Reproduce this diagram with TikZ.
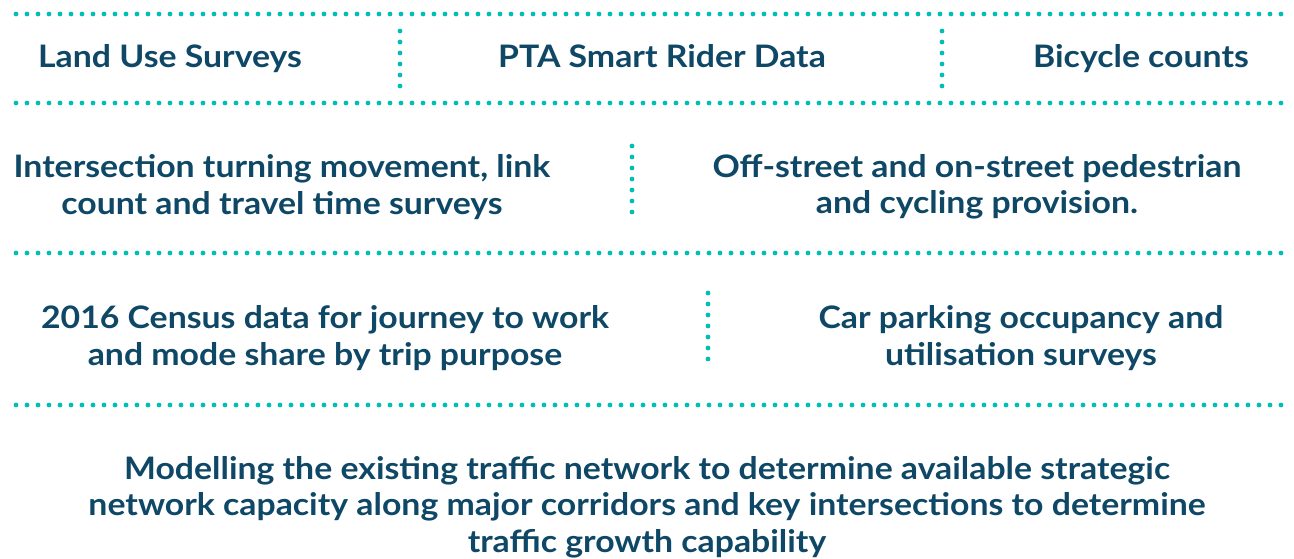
\documentclass[tikz,border=0pt]{standalone}
\usepackage{fontspec}
\setmainfont{Lato}[FakeStretch=1.09]
\definecolor{navy}{RGB}{14,72,102}
\definecolor{dotteal}{RGB}{0,190,182}

\begin{document}
\begin{tikzpicture}[x=1pt,y=-1pt,
  dots/.style={dotteal,line width=4.8pt,line cap=round,dash pattern=on 0pt off 11pt},
  item/.style={text=navy,font=\bfseries\fontsize{31}{36.5}\selectfont,align=center,inner sep=0pt}]
\useasboundingbox (0,0) rectangle (1294,558);
% rules between the rows
\foreach \y in {14,103,253,405}
  \draw[dots] (16,\y) -- (1284,\y);
% splits inside the rows
\draw[dots] (400,31) -- (400,87) (942,31) -- (942,87);
\draw[dots] (632,146) -- (632,213);
\draw[dots] (708,293) -- (708,362);
% first row, on one baseline
\node[item,anchor=base] (land) at (170,67) {Land Use Surveys};
\node[item,anchor=base] (pta) at (662,67) {PTA Smart Rider Data};
\node[item,anchor=base] (bike) at (1141,67) {Bicycle counts};
% second row
\node[item] (turn) at (282,187) {Intersection turning movement, link\\count and travel time surveys};
\node[item] (walk) at (977,187) {Off-street and on-street pedestrian\\and cycling provision.};
% third row
\node[item] (census) at (325,338) {2016 Census data for journey to work\\and mode share by trip purpose};
\node[item] (park) at (1021,338) {Car parking occupancy and\\utilisation surveys};
% modelling
\node[item] (model) at (647,507) {Modelling the existing traffic network to determine available strategic\\network capacity along major corridors and key intersections to determine\\traffic growth capability};
\end{tikzpicture}
\end{document}
